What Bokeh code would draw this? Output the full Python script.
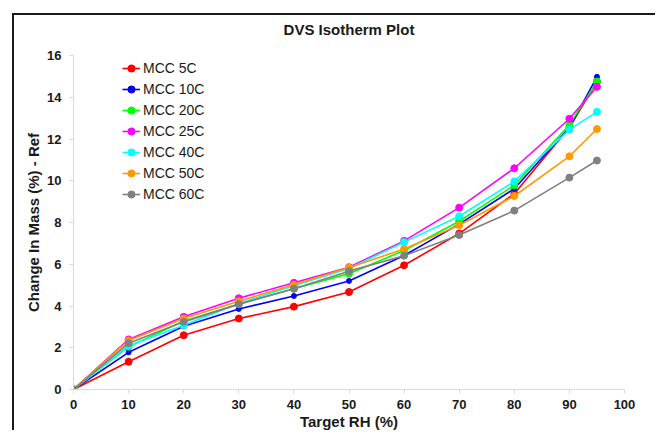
from bokeh.plotting import figure
from bokeh.models import Range1d, FixedTicker, Legend
from bokeh.embed import file_html
from bokeh.resources import INLINE

rh = [0, 10, 20, 30, 40, 50, 60, 70, 80, 90, 95]
series_names = ["MCC 5C", "MCC 10C", "MCC 20C", "MCC 25C", "MCC 40C", "MCC 50C", "MCC 60C"]
mcc_5c = [0.0, 1.33, 2.60, 3.40, 3.97, 4.67, 5.95, 7.47, 9.38, 12.55, 14.75]
mcc_10c = [0.0, 1.78, 3.03, 3.86, 4.48, 5.20, 6.42, 7.92, 9.62, 12.55, 14.98]
mcc_20c = [0.0, 2.05, 3.28, 4.08, 4.83, 5.55, 6.66, 8.06, 9.78, 12.68, 14.75]
mcc_25c = [0.0, 2.40, 3.48, 4.37, 5.11, 5.86, 7.12, 8.71, 10.60, 12.97, 14.50]
mcc_40c = [0.0, 2.10, 3.08, 4.12, 4.97, 5.80, 7.06, 8.30, 9.97, 12.45, 13.30]
mcc_50c = [0.0, 2.35, 3.40, 4.23, 5.02, 5.84, 6.73, 7.87, 9.27, 11.17, 12.48]
mcc_60c = [0.0, 2.22, 3.24, 4.09, 4.83, 5.67, 6.41, 7.40, 8.57, 10.15, 10.97]
x_ticks = [0, 10, 20, 30, 40, 50, 60, 70, 80, 90, 100]
y_ticks = [0, 2, 4, 6, 8, 10, 12, 14, 16]
title_text = "DVS Isotherm Plot"

all_series = [mcc_5c, mcc_10c, mcc_20c, mcc_25c, mcc_40c, mcc_50c, mcc_60c]
colors = ["#ff0000", "#0000ff", "#00ff00", "#ff00ff", "#00ffff", "#ff9900", "#808080"]
sizes = [7, 5, 7, 7, 7, 7, 7]

FONT = "Liberation Sans"

# trailing newline gives the title an empty second line so it sits higher above the frame
p = figure(width=643, height=417, output_backend="svg", toolbar_location=None,
           x_range=Range1d(0, 100), y_range=Range1d(0, 16),
           min_border_left=59, min_border_right=33, min_border_top=40, min_border_bottom=43,
           title=title_text + "\n")
p.margin = (13, 0, 0, 12)
p.styles = {"border-left": "2px solid #1a1a1a", "border-top": "2px solid #1a1a1a"}
p.outline_line_color = None
p.background_fill_color = "white"
p.border_fill_color = "white"

p.title.align = "center"
p.title.vertical_align = "bottom"
p.title.standoff = 2
p.title.text_font = FONT
p.title.text_font_size = "15px"
p.title.text_font_style = "bold"
p.title.text_color = "#1a1a1a"

p.xgrid.visible = False
p.ygrid.visible = False

for ax in (p.xaxis[0], p.yaxis[0]):
    ax.axis_line_color = "#d9d9d9"
    ax.major_tick_line_color = "#d9d9d9"
    ax.minor_tick_line_color = None
    ax.major_tick_in = 0
    ax.major_tick_out = 4
    ax.major_label_text_font = FONT
    ax.major_label_text_font_size = "13px"
    ax.major_label_text_font_style = "bold"
    ax.major_label_text_color = "#1a1a1a"
    ax.axis_label_text_font = FONT
    ax.axis_label_text_font_size = "15px"
    ax.axis_label_text_font_style = "bold"
    ax.axis_label_text_color = "#1a1a1a"

p.xaxis.ticker = FixedTicker(ticks=x_ticks)
p.yaxis.ticker = FixedTicker(ticks=y_ticks)
p.xaxis.axis_label = "Target RH (%)"
p.yaxis.axis_label = "Change In Mass (%) - Ref"
p.yaxis.major_label_standoff = 8
p.yaxis.axis_label_standoff = 2
p.xaxis.major_label_standoff = 6
p.xaxis.axis_label_standoff = 1

items = []
for name, ys, c, s in zip(series_names, all_series, colors, sizes):
    r1 = p.line(rh, ys, line_color=c, line_width=1.6)
    r2 = p.scatter(rh, ys, marker="circle", size=s, fill_color=c, line_color=c)
    items.append((name, [r1, r2]))

legend = Legend(items=items, location=(49, 185))
legend.margin = 0
legend.padding = 0
legend.spacing = 1
legend.glyph_height = 20
legend.glyph_width = 18
legend.label_height = 20
legend.label_standoff = 3
legend.label_text_font = FONT
legend.label_text_font_size = "14px"
legend.label_text_color = "#1a1a1a"
legend.border_line_color = None
legend.background_fill_alpha = 0
p.add_layout(legend, "center")

open("out.html", "w").write(file_html(p, INLINE))
